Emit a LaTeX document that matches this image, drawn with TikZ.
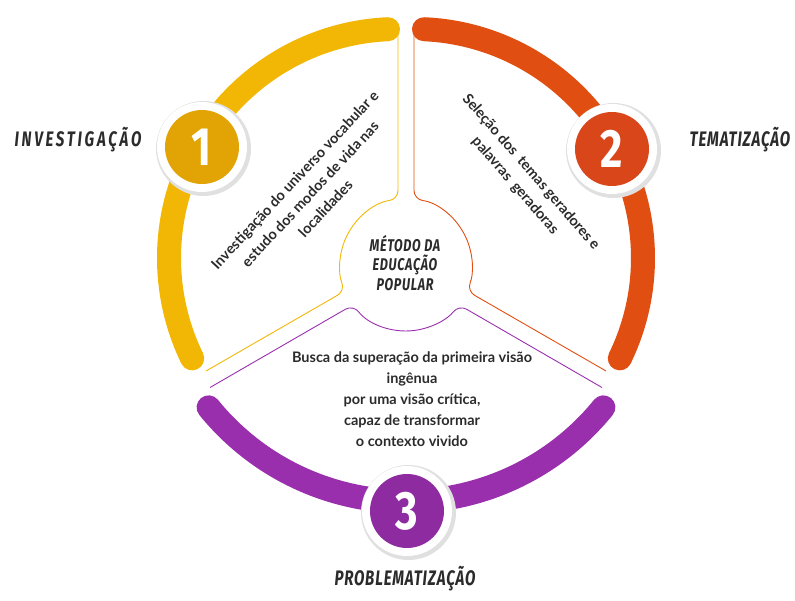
\documentclass[tikz,border=0pt]{standalone}
\usepackage{fontspec}
\setmainfont{Lato}
\newfontfamily\headfont{Fira Sans}[FakeStretch=0.72,LetterSpace=4]
\newfontfamily\widefont{Fira Sans}[FakeStretch=0.72,LetterSpace=13]
\newfontfamily\titlefont{Fira Sans}[FakeStretch=0.74,LetterSpace=4]
\newfontfamily\numfont{Fira Sans}[FakeStretch=0.8]
\tikzset{
  band/.style={line width=24pt,line cap=round},
  edge/.style={line width=0.9pt,rounded corners=9pt},
  head/.style={font=\headfont\bfseries\itshape\fontsize{21}{24}\selectfont,text=ink},
  widehead/.style={head,font=\widefont\bfseries\itshape\fontsize{21}{24}\selectfont},
  title/.style={font=\titlefont\bfseries\itshape\fontsize{17}{19.5}\selectfont,text=ink,align=center},
  body/.style={font=\bfseries\fontsize{14.5}{21}\selectfont,text=ink,align=center},
  num/.style={font=\numfont\bfseries\fontsize{54}{54}\selectfont,text=white}
}
\begin{document}
\begin{tikzpicture}[x=1pt,y=1pt]
\definecolor{color1}{HTML}{F2B705}
\definecolor{color2}{HTML}{E04E12}
\definecolor{color3}{HTML}{9A2FAE}
\definecolor{disc1}{HTML}{E2A404}
\definecolor{disc2}{HTML}{D8461A}
\definecolor{disc3}{HTML}{8E2BA0}
\definecolor{ink}{HTML}{2B2B2B}
\def\RIN{66};\def\RBAND{229};\def\RLOW{254};
\useasboundingbox (-406,-336) rectangle (389,265);
\draw [edge, color1] (-8,236)--(-8,65.5) arc[start angle=97,end angle=203,radius=\RIN]--(-200,-106);
\draw [edge, color2] (8,236)--(8,65.5) arc[start angle=83,end angle=-23,radius=\RIN]--(200,-106);
\draw [edge, color3] (-196,-122.5)--(-52.7,-39.7) arc[start angle=217,end angle=323,radius=\RIN]--(196,-122.5);
\draw [band, color1] (-8,7) ++(92.5:\RBAND) arc[start angle=92.5,end angle=206,radius=\RBAND];
\draw [band, color2] (8,7) ++(87.5:\RBAND) arc[start angle=87.5,end angle=-26,radius=\RBAND];
\draw [band, color3] (0,17.5) ++(219:\RLOW) arc[start angle=219,end angle=321,radius=\RLOW];
\foreach \n/\x/\y/\c in {1/-204/118/disc1,2/206/116/disc2,3/1/-246/disc3}{
  \fill [black!12] (\x+1.5,\y-1.5) circle (47.5);
  \fill [white] (\x,\y) circle (45);
  \fill [\c] (\x,\y) circle (37);
  \node [num] (num\n) at (\x,\y) {\n};
}
\node [widehead] (lab1) at (-328,125) {INVESTIGAÇÃO};
\node [head] (lab2) at (334,125) {TEMATIZAÇÃO};
\node [head] (lab3) at (-1,-314) {PROBLEMATIZAÇÃO};
\node [title] (centro) at (-1,2) {MÉTODO DA\\EDUCAÇÃO\\POPULAR};
\node [body, rotate=47] (txt1) at (-96,71) {Investigação do universo vocabular e\\estudo dos modos de vida nas\\localidades};
\node [body, rotate=-49] (txt2) at (117,86) {Seleção dos\ \ temas geradores e\\palavras\ \ geradoras};
\node [body] (txt3) at (6,-134) {Busca da superação da primeira visão\\ingênua\\por uma visão crítica,\\capaz de transformar\\o contexto vivido};
\end{tikzpicture}
\end{document}
